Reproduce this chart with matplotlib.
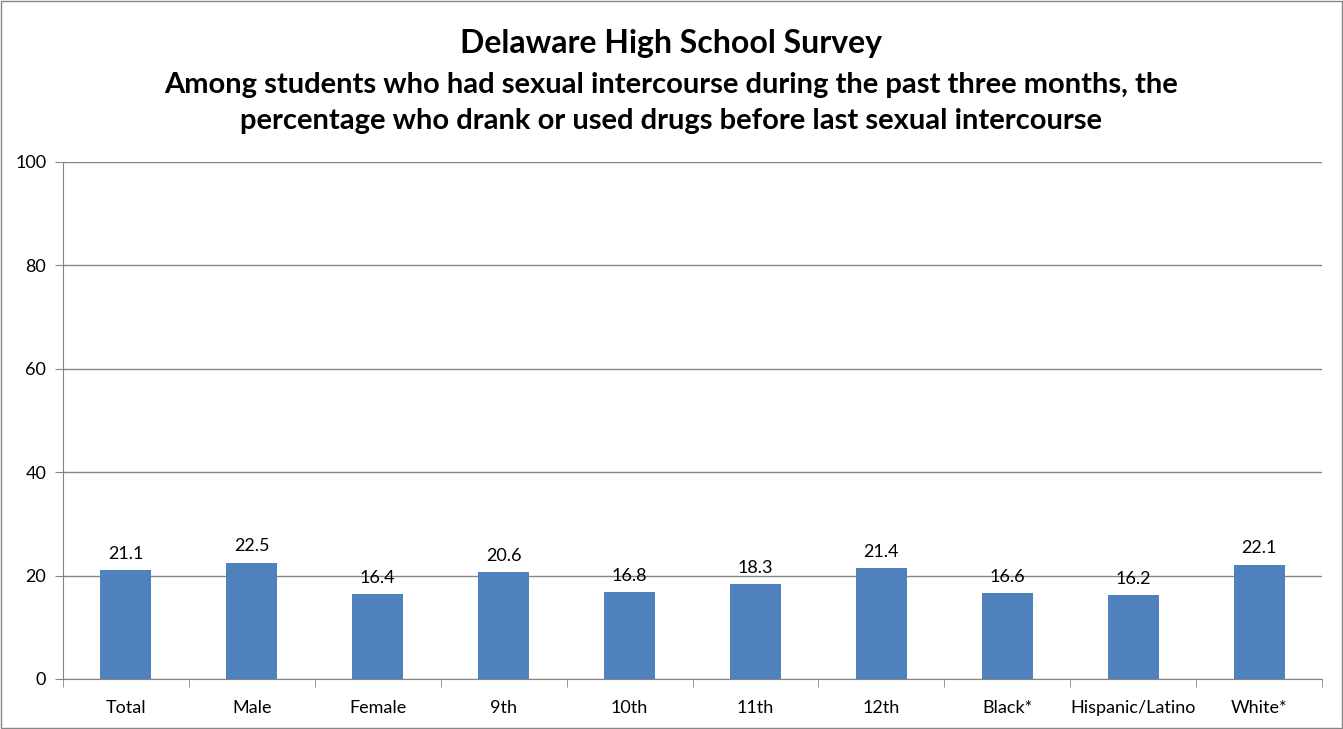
import numpy as np
from matplotlib import pyplot as plt

categories = ['Total', 'Male', 'Female', '9th', '10th', '11th', '12th',
              'Black*', 'Hispanic/Latino', 'White*']
values = [21.1, 22.5, 16.4, 20.6, 16.8, 18.3, 21.4, 16.6, 16.2, 22.1]
yticks = [0, 20, 40, 60, 80, 100]

bar_color = '#4F81BD'
grid_color = '#868686'
plt.rcParams['font.family'] = ['Lato', 'DejaVu Sans']

fig = plt.figure(figsize=(13.43, 7.29), dpi=100)
ax = fig.add_axes([0.0469, 0.0686, 0.9375, 0.7092])

x = np.arange(len(categories))
ax.bar(x, values, width=0.405, color=bar_color, zorder=3)
for xi, v in zip(x, values):
    ax.annotate(f'{v}', (xi, v), xytext=(0, 6), textcoords='offset points',
                ha='center', va='bottom', fontsize=13)

ax.set_xlim(-0.5, len(categories) - 0.5)
ax.set_ylim(0, 100)
ax.set_yticks(yticks)
ax.yaxis.grid(True, color=grid_color, linewidth=1, zorder=0)
ax.set_xticks(x)
ax.set_xticklabels(categories, fontsize=13)
ax.set_xticks(np.arange(-0.5, len(categories)), minor=True)
ax.tick_params(axis='x', which='major', length=0, pad=15)
ax.tick_params(axis='x', which='minor', length=6, color=grid_color, direction='out')
ax.tick_params(axis='y', length=6, color=grid_color, labelsize=13, pad=6)
for side in ['top', 'right']:
    ax.spines[side].set_visible(False)
for side in ['left', 'bottom']:
    ax.spines[side].set_color(grid_color)

fig.text(0.5, 1 - 43 / 729, 'Delaware High School Survey', ha='center', va='center',
         fontsize=23, fontweight='bold')
fig.text(0.5, 1 - 103 / 729,
         'Among students who had sexual intercourse during the past three months, the\n'
         'percentage who drank or used drugs before last sexual intercourse',
         ha='center', va='center', fontsize=21, fontweight='bold', linespacing=1.45)

fig.patches.append(plt.Rectangle((0.0005, 0.001), 0.999, 0.998, transform=fig.transFigure,
                                 fill=False, edgecolor=grid_color, linewidth=1))
plt.savefig('out.png', dpi=100)
